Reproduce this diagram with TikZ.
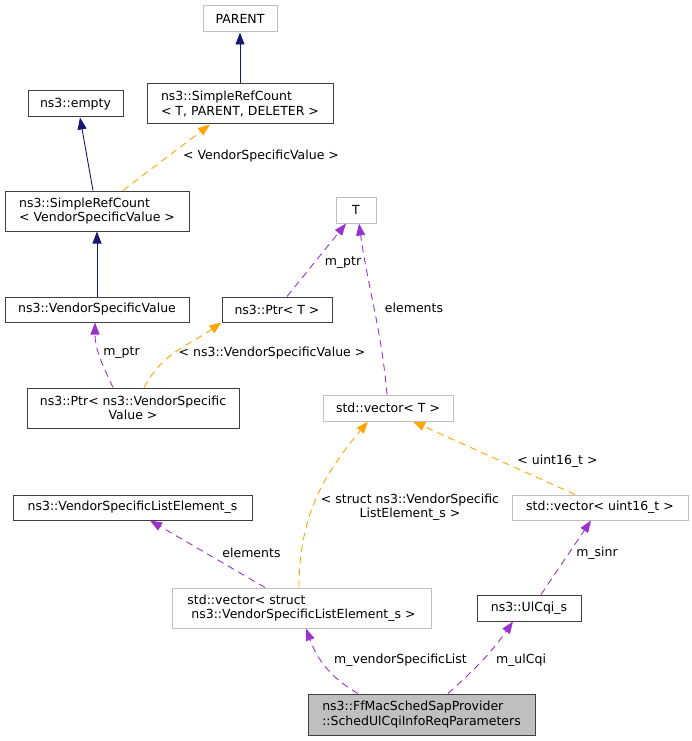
\documentclass[tikz,border=0pt]{standalone}
\usepackage{fontspec}
\setmainfont{DejaVu Sans}
\usepackage{xcolor}
\usetikzlibrary{arrows.meta}
\definecolor{navyedge}{HTML}{191970}
\definecolor{purpleedge}{HTML}{9A32CD}
\definecolor{orangeedge}{HTML}{FFA500}
\definecolor{boxgray}{HTML}{BFBFBF}
\definecolor{boxdark}{HTML}{404040}

\begin{document}
\begin{tikzpicture}[x=1pt, y=-1pt,
            font=\fontsize{12.5}{14.3}\selectfont,
            cls/.style={draw=boxdark, line width=1pt, inner sep=0pt},
            ext/.style={draw=boxgray, line width=1pt, inner sep=0pt},
            cur/.style={cls, fill=boxgray},
            inh/.style={navyedge, line width=0.9pt, -{Triangle[length=12pt,width=9pt]}},
            mbr/.style={purpleedge, line width=0.9pt, dash pattern=on 7pt off 5pt, -{Triangle[length=12pt,width=9pt]}},
            tpl/.style={orangeedge, line width=0.9pt, dash pattern=on 7pt off 5pt, -{Triangle[length=12pt,width=9pt]}},
            lbl/.style={inner sep=0pt, align=center}]
            \useasboundingbox (0,0) rectangle (692,741);
            % classes
            \node[ext, minimum width=74pt, minimum height=26pt] (parent) at (240,19) {PARENT};
            \node[cls, minimum width=186pt, minimum height=40pt, align=left] (srcT) at (240,104) {ns3::SimpleRefCount\\< T, PARENT, DELETER >};
            \node[cls, minimum width=95pt, minimum height=26pt] (empty) at (75.5,104) {ns3::empty};
            \node[cls, minimum width=184pt, minimum height=40pt, align=left] (srcVSV) at (97,211) {ns3::SimpleRefCount\\< VendorSpecificValue >};
            \node[ext, minimum width=40pt, minimum height=26pt] (T) at (356,210) {T};
            \node[cls, minimum width=184pt, minimum height=25pt] (vsv) at (97,309.5) {ns3::VendorSpecificValue};
            \node[cls, minimum width=110pt, minimum height=25pt] (ptrT) at (277,309.5) {ns3::Ptr< T >};
            \node[cls, minimum width=212pt, minimum height=40pt, align=center] (ptrVSV) at (133,408) {ns3::Ptr< ns3::VendorSpecific\\Value >};
            \node[ext, minimum width=130pt, minimum height=26pt] (vecT) at (388,408) {std::vector< T >};
            \node[cls, minimum width=239pt, minimum height=25pt] (vsle) at (132.5,507.5) {ns3::VendorSpecificListElement\_s};
            \node[ext, minimum width=176pt, minimum height=25pt] (vec16) at (600,507.5) {std::vector< uint16\_t >};
            \node[ext, minimum width=259pt, minimum height=40pt, align=left] (vecS) at (301.5,608) {std::vector< struct\\\ ns3::VendorSpecificListElement\_s >};
            \node[cls, minimum width=104pt, minimum height=26pt] (ulcqi) at (529,608) {ns3::UlCqi\_s};
            \node[cur, minimum width=227pt, minimum height=41pt, align=left] (sched) at (421.5,714.5) {ns3::FfMacSchedSapProvider\\::SchedUlCqiInfoReqParameters};
            % edges
            \draw[inh] (srcT.north) -- (parent.south);
            \draw[inh] ([xshift=-4pt]srcVSV.north) -- ([xshift=4.5pt]empty.south);
            \draw[tpl] ([xshift=26pt]srcVSV.north) -- ([xshift=-30pt]srcT.south);
            \draw[inh] (vsv.north) -- (srcVSV.south);
            \draw[mbr] ([xshift=-20pt]ptrVSV.north) to[out=115, in=-90] ([xshift=-2pt]vsv.south);
            \draw[tpl] ([xshift=11pt]ptrVSV.north) to[out=62, in=-145] (ptrT.south west);
            \draw[mbr] ([xshift=10pt]ptrT.north) -- ([xshift=-10pt]T.south);
            \draw[mbr] ([xshift=-1pt]vecT.north) to[out=95, in=-82] ([xshift=3pt]T.south);
            \draw[tpl] ([xshift=-2.5pt]vecS.north) to[out=90, in=-130] ([xshift=-20pt]vecT.south);
            \draw[tpl] ([xshift=-25pt]vec16.north) -- ([xshift=25pt]vecT.south);
            \draw[mbr] ([xshift=-36.5pt]vecS.north) -- ([xshift=17.5pt]vsle.south);
            \draw[mbr] ([xshift=12pt]ulcqi.north) -- ([xshift=-9pt]vec16.south);
            \draw[mbr] ([xshift=-63.5pt]sched.north) to[out=150, in=-70] ([xshift=4.5pt]vecS.south);
            \draw[mbr] ([xshift=26.5pt]sched.north) to[out=42, in=-125] ([xshift=-16pt]ulcqi.south);
            % edge labels
            \node[lbl] (lVSV) at (261,156) {< VendorSpecificValue >};
            \node[lbl] (lptrA) at (121.5,353) {m\_ptr};
            \node[lbl] (lVSVns) at (272,353) {< ns3::VendorSpecificValue >};
            \node[lbl] (lptrB) at (343,263) {m\_ptr};
            \node[lbl] (lelemA) at (414,308) {elements};
            \node[lbl] (lstruct) at (410,507) {< struct ns3::VendorSpecific\\ListElement\_s >};
            \node[lbl] (luint) at (557.5,461) {< uint16\_t >};
            \node[lbl] (lelemB) at (251.5,553) {elements};
            \node[lbl] (lsinr) at (597,553) {m\_sinr};
            \node[lbl] (lvsl) at (400.5,660) {m\_vendorSpecificList};
            \node[lbl] (lulcqi) at (521,660) {m\_ulCqi};
        \end{tikzpicture}
\end{document}
